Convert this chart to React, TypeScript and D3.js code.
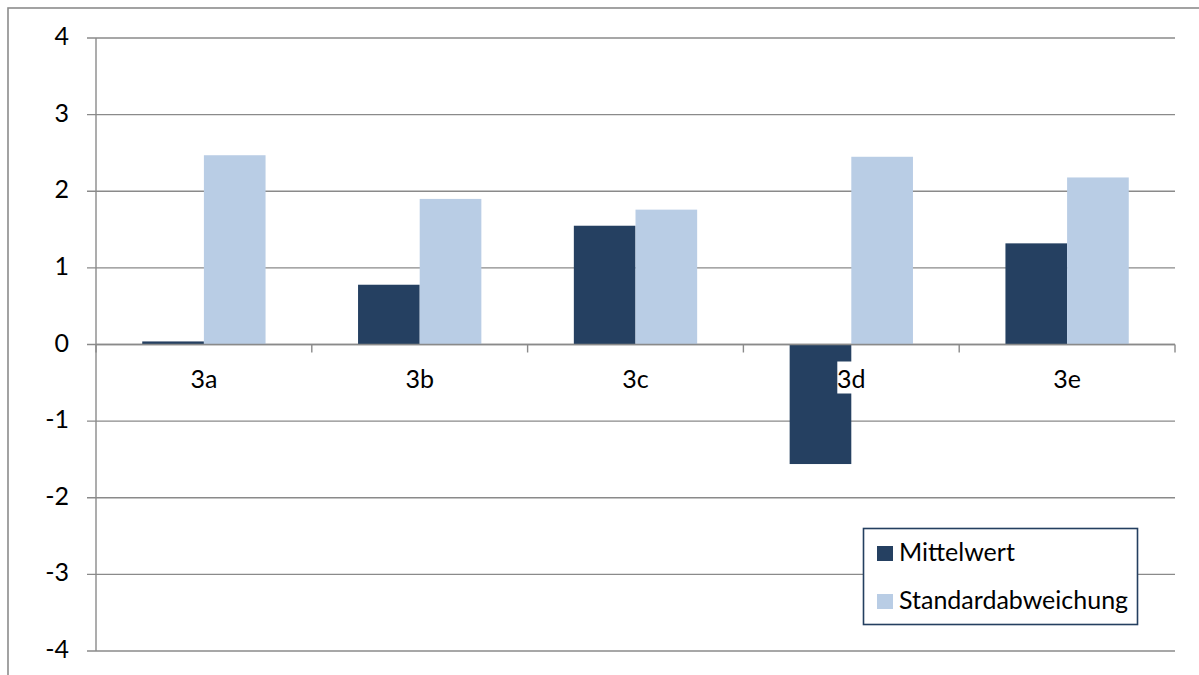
import React from "react";
import * as d3 from "d3";

const categories = ["3a", "3b", "3c", "3d", "3e"];
const mittelwert = [0.04, 0.78, 1.55, -1.56, 1.32];
const standardabweichung = [2.47, 1.9, 1.76, 2.45, 2.18];
const yTicks = [-4, -3, -2, -1, 0, 1, 2, 3, 4];
const seriesNames = ["Mittelwert", "Standardabweichung"];
const seriesColors = ["#254061", "#B9CDE5"];

const W = 1199;
const H = 675;
const plot = { left: 96, right: 1175, top: 38, bottom: 651 };
const FONT = "Lato, 'Open Sans', sans-serif";
const GRID = "#8a8a8a";
const FS = 25;

export default function App() {
  const x = d3
    .scaleBand<string>()
    .domain(categories)
    .range([plot.left, plot.right])
    .paddingInner(0)
    .paddingOuter(0);
  const y = d3.scaleLinear().domain([-4, 4]).range([plot.bottom, plot.top]);
  const bw = x.bandwidth();
  const barW = bw / 3.5;
  const inner = d3
    .scaleBand<number>()
    .domain([0, 1])
    .range([(bw - 2 * barW) / 2, (bw + 2 * barW) / 2]);
  const series = [mittelwert, standardabweichung];

  return (
    <svg
      width={W}
      height={H}
      style={{ position: "absolute", left: 0, top: 0, background: "#fff" }}
      fontFamily={FONT}
    >
      <rect x={8} y={8} width={W} height={H} fill="#fff" stroke="#8c8c8c" strokeWidth={1.6} />

      {yTicks.map((t) => (
        <g key={t}>
          <line
            x1={plot.left - 9}
            x2={plot.right}
            y1={y(t)}
            y2={y(t)}
            stroke={GRID}
            strokeWidth={1.4}
          />
          <text
            x={69}
            y={y(t)}
            dy="0.28em"
            textAnchor="end"
            fontSize={FS}
            fill="#000"
          >
            {t}
          </text>
        </g>
      ))}
      <line x1={plot.left} x2={plot.left} y1={plot.top} y2={plot.bottom} stroke={GRID} strokeWidth={1.4} />

      {series.map((vals, si) =>
        vals.map((v, i) => {
          const x0 = (x(categories[i]) as number) + (inner(si) as number);
          return (
            <rect
              key={`${si}-${i}`}
              x={x0}
              y={Math.min(y(v), y(0))}
              width={inner.bandwidth()}
              height={Math.abs(y(v) - y(0))}
              fill={seriesColors[si]}
            />
          );
        })
      )}

      {/* category axis along zero */}
      <line x1={plot.left} x2={plot.right} y1={y(0)} y2={y(0)} stroke={GRID} strokeWidth={1.4} />
      {[...categories.map((c) => x(c) as number), plot.right].map((px, i) => (
        <line key={i} x1={px} x2={px} y1={y(0)} y2={y(0) + 8} stroke={GRID} strokeWidth={1.4} />
      ))}
      {categories.map((c) => {
        const cx = (x(c) as number) + bw / 2;
        return (
          <g key={c}>
            <rect x={cx - 14} y={y(0) + 17} width={30} height={32} fill="#fff" />
            <text x={cx} y={y(0) + 43} textAnchor="middle" fontSize={FS} fill="#000">
              {c}
            </text>
          </g>
        );
      })}

      {/* legend */}
      <rect x={863.5} y={528.5} width={274} height={96} fill="#fff" stroke="#243f60" strokeWidth={1.6} />
      {seriesNames.map((n, i) => (
        <g key={n}>
          <rect x={877} y={546 + i * 48} width={16} height={15} fill={seriesColors[i]} />
          <text x={899} y={561 + i * 48} fontSize={FS} fill="#000">
            {n}
          </text>
        </g>
      ))}
    </svg>
  );
}
